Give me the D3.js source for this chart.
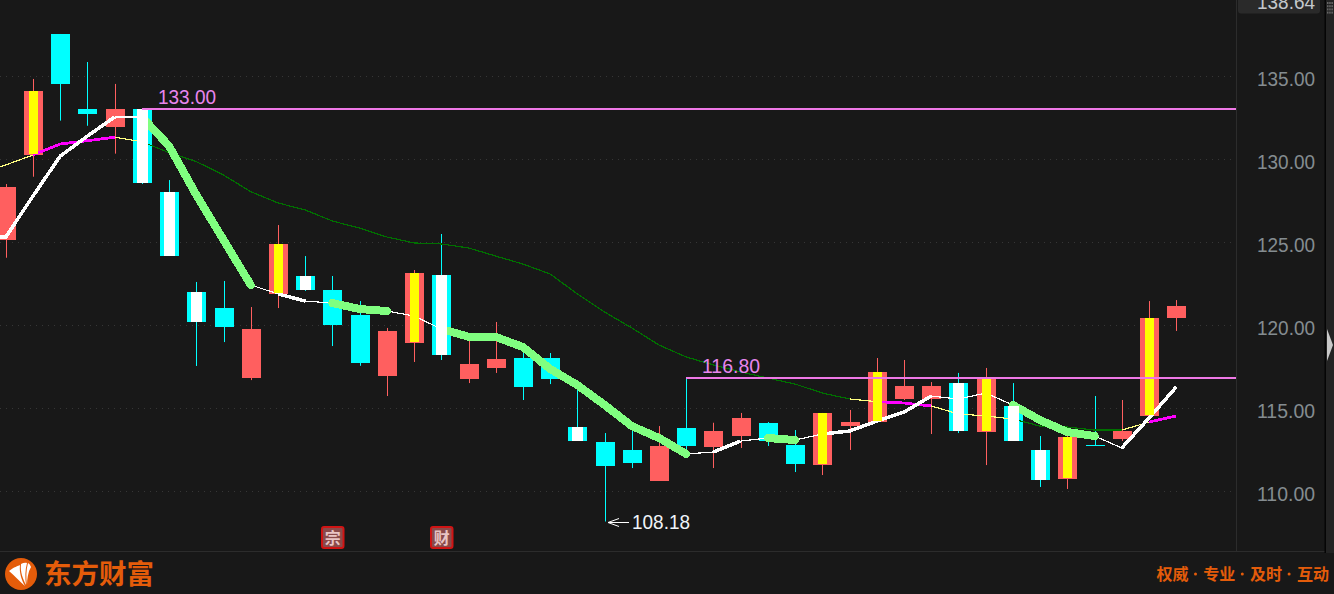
<!DOCTYPE html>
<html><head><meta charset="utf-8">
<script src="https://cdn.jsdelivr.net/npm/d3@7/dist/d3.min.js"></script>
<style>html,body{margin:0;padding:0;background:#181818;overflow:hidden}svg{display:block}</style>
</head><body><svg id="c" width="1334" height="594"></svg>
<script>
const open_=[125.16,130.26,137.55,133.03,131.95,133.03,128.03,122.01,121.04,116.82,121.90,122.97,122.13,120.62,116.95,118.93,123.03,116.76,117.43,118.03,118.03,113.87,112.97,112.49,110.62,113.81,112.67,113.33,114.13,112.79,111.58,113.93,114.17,115.56,115.56,116.52,113.57,115.14,112.49,110.74,112.79,113.15,114.54,120.44];
const close_=[128.33,134.11,134.55,132.73,133.03,128.57,124.19,120.20,119.90,119.78,124.90,122.13,120.02,117.75,119.66,123.15,118.21,117.67,117.97,116.28,116.76,113.03,111.52,111.70,112.73,112.73,113.63,114.41,113.03,111.64,114.72,114.17,117.19,116.34,116.34,113.63,116.82,113.03,110.68,113.27,112.73,113.63,120.44,121.16];
const high_=[128.51,134.84,137.55,135.86,134.54,133.03,128.75,122.61,122.67,121.10,126.04,124.17,122.97,121.46,119.84,123.33,125.50,119.41,120.20,118.81,118.33,116.10,113.51,113.69,113.93,116.80,114.13,114.72,114.17,113.69,114.72,114.90,118.03,117.91,116.58,117.13,117.43,116.52,113.33,113.93,115.74,115.50,121.46,121.52];
const low_=[124.07,128.95,132.33,132.02,130.34,128.51,124.19,117.55,118.99,116.70,121.04,122.07,118.75,117.56,115.74,117.79,117.91,116.52,117.13,115.50,116.46,113.03,108.18,111.40,110.62,112.37,111.40,112.61,112.73,111.16,110.98,112.49,114.17,115.50,113.45,113.51,111.58,113.03,110.26,110.14,112.73,113.03,114.54,119.66];
const bandedCandles=[1,5,6,7,10,11,15,16,21,30,32,35,36,37,38,39,42];
// moving averages start one session before the first visible candle
const maShort=[125.26,125.32,127.79,130.19,131.40,132.55,132.55,130.80,127.85,125.14,122.43,121.89,121.46,121.34,120.98,120.86,120.56,119.78,119.31,119.30,118.69,117.37,116.40,115.20,113.93,113.21,112.25,112.37,113.03,113.21,113.09,113.45,113.63,114.23,114.77,115.74,115.56,115.92,115.20,114.29,113.57,113.33,112.61,114.41,116.28];
const maLong=[129.11,129.66,130.26,130.92,131.12,131.33,131.06,130.40,129.86,129.05,128.05,127.37,126.95,126.28,125.86,125.32,124.96,124.90,124.66,124.17,123.69,123.09,121.89,120.80,119.84,118.81,118.09,117.61,117.19,116.82,116.46,115.92,115.56,115.40,115.32,115.14,114.66,114.54,114.35,113.93,113.87,113.69,113.69,114.17,114.54];
const maShortModes="TTTTTtGGGGtTtGGttGGGGGGGGGtTtGtTTTTtttGGGtTT";
const maLongModes="yyMMMyDDDDDDDDDDDDDDDDDDDDDDDDDDyMMyyyDDDDyM";
const yTicks=[135,130,125,120,115,110];
const axisTop="138.64";
const resistance=[{start:5,value:133.00,label:"133.00"},{start:25,value:116.80,label:"116.80"}];
const lowMark={index:22,value:108.18,label:"108.18"};
const eventBadges=[{index:12,text:"宗"},{index:16,text:"财"}];
const brand="东方财富", slogan=["权威","专业","及时","互动"];

const BG="#181818",RED="#ff5f5f",CYAN="#00ffff",YEL="#ffff00",GRN="#80ff80",PINK="#ee78e6";
const plotW=1236,plotB=551;
const modeStyle={T:["#fff",3.5,"butt"],t:["#fff",1.2,"butt"],G:[GRN,8,"round"],y:["#ffff80",1.2,"butt"],M:["#ff00ff",2.8,"butt"],D:["#007000",1.2,"butt"]};
const x=d3.scaleLinear().domain([0,43]).range([5.8,1176.2]);
const y=d3.scaleLinear().domain([110,135]).range([491.3,76.3]);
const svg=d3.select("#c");
const FONT='"Liberation Sans",Arial,sans-serif';
const num=s=>s.attr("font-family",FONT).attr("font-size",20).attr("textLength",58).attr("lengthAdjust","spacingAndGlyphs");
svg.append("rect").attr("width",1334).attr("height",594).attr("fill",BG);
svg.append("defs").append("clipPath").attr("id","plot").append("rect").attr("width",plotW).attr("height",plotB);

// grid and frame
svg.append("g").selectAll("line").data(yTicks).join("line")
 .attr("x1",0).attr("x2",1241).attr("y1",d=>Math.round(y(d))+.5).attr("y2",d=>Math.round(y(d))+.5)
 .attr("stroke","#363636").attr("stroke-dasharray","1 5");
svg.append("line").attr("x1",1236.5).attr("x2",1236.5).attr("y1",0).attr("y2",plotB).attr("stroke","#2c2c2c");
svg.append("line").attr("x1",0).attr("x2",1325).attr("y1",plotB+.5).attr("y2",plotB+.5).attr("stroke","#2c2c2c");
svg.append("rect").attr("x",1324.5).attr("y",0).attr("width",1.5).attr("height",553).attr("fill","#050505");
svg.append("rect").attr("x",1326).attr("y",0).attr("width",8).attr("height",553).attr("fill","#232323");
svg.append("path").attr("d",d3.line()([[1327,329],[1333,345],[1327,361]])+"Z").attr("fill","#c8c8c8");
const grip=svg.append("g").attr("fill","#666");
d3.range(4).forEach(r=>d3.range(3).forEach(c=>grip.append("rect").attr("x",1327+c*2.2).attr("y",2+r*3.2).attr("width",1.5).attr("height",2)));

// axis
const axis=d3.axisRight(y).tickValues(yTicks).tickFormat(d3.format(".2f")).tickSize(0);
const ga=svg.append("g").attr("transform","translate(1257,0)").call(axis);
ga.select(".domain").remove();
ga.selectAll("text").attr("x",0).attr("y",9.3).attr("dy",0).attr("text-anchor","start").attr("fill","#848c90").call(num);
svg.append("rect").attr("x",1238).attr("y",-4).attr("width",82).attr("height",17.5).attr("rx",3).attr("fill","#2a2a2a");
svg.append("text").attr("x",1257).attr("y",9.3).attr("fill","#c4c8cc").call(num).text(axisTop);

const plot=svg.append("g").attr("clip-path","url(#plot)");
const idx=d3.range(open_.length);
const bw=19;
const isUp=i=>close_[i]>=open_[i];
const col=i=>isUp(i)?RED:CYAN;
// wicks
plot.append("g").selectAll("line").data(idx).join("line")
 .attr("x1",i=>Math.round(x(i))+.5).attr("x2",i=>Math.round(x(i))+.5)
 .attr("y1",i=>y(high_[i])).attr("y2",i=>y(low_[i])).attr("stroke",col).attr("stroke-width",1);
// bodies
plot.append("g").selectAll("rect").data(idx).join("rect")
 .attr("x",i=>Math.round(x(i))+.5-bw/2).attr("width",bw)
 .attr("y",i=>Math.round(y(Math.max(open_[i],close_[i]))))
 .attr("height",i=>Math.max(1,Math.round(Math.abs(y(open_[i])-y(close_[i])))))
 .attr("fill",col);
// moving averages
function drawMA(vals,modes,order){
  const line=d3.line();
  const g=plot.append("g").attr("fill","none").attr("shape-rendering","crispEdges");
  const segs=d3.range(vals.length-1).map(k=>({k,m:modes[k]}));
  order.forEach(m=>{
    let runs=[],cur=null;
    segs.filter(s=>s.m===m).forEach(s=>{
      if(cur&&cur[cur.length-1]===s.k){cur.push(s.k+1);}else{cur=[s.k,s.k+1];runs.push(cur);}
    });
    runs.forEach(r=>{
      const st=modeStyle[m];
      g.append("path").attr("d",line(r.map(k=>[x(k-1),y(vals[k])])))
       .attr("stroke",st[0]).attr("stroke-width",st[1]).attr("stroke-linecap",st[2]).attr("stroke-linejoin","round");
    });
  });
}
drawMA(maLong,maLongModes,["y","D","M"]);
drawMA(maShort,maShortModes,["t","T","G"]);
// candle centre bands sit above the averages
plot.append("g").selectAll("rect").data(bandedCandles).join("rect")
 .attr("x",i=>Math.round(x(i))+.5-(isUp(i)?4.5:5.5)).attr("width",i=>isUp(i)?9:11)
 .attr("y",i=>Math.round(y(Math.max(open_[i],close_[i]))))
 .attr("height",i=>Math.round(Math.abs(y(open_[i])-y(close_[i])))-(isUp(i)?1:0))
 .attr("fill",i=>isUp(i)?YEL:"#fff");
// resistance
const gr=svg.append("g").selectAll("g").data(resistance).join("g");
gr.append("line").attr("x1",d=>Math.round(x(d.start))).attr("x2",plotW).attr("y1",d=>Math.floor(y(d.value))).attr("y2",d=>Math.floor(y(d.value))).attr("stroke",PINK).attr("stroke-width",2);
gr.append("text").attr("x",d=>Math.round(x(d.start))+16).attr("y",d=>Math.floor(y(d.value))-5.2).attr("fill","#e886ee").call(num).text(d=>d.label);
// low marker
const lx=Math.round(x(lowMark.index))+3,ly=Math.round(y(lowMark.value))+.5;
svg.append("path").attr("d",`M${lx+21},${ly}H${lx}M${lx+11},${ly-4}L${lx},${ly}L${lx+11},${ly+4}`).attr("stroke","#fff").attr("fill","none");
svg.append("text").attr("x",lx+24).attr("y",ly+6.5).attr("fill","#f0f4f8").call(num).text(lowMark.label);
// badges
const CJK='"Noto Sans CJK SC",sans-serif';
const gb=svg.append("g").selectAll("g").data(eventBadges).join("g").attr("transform",d=>`translate(${Math.round(x(d.index))-10},527)`);
gb.append("rect").attr("width",21.5).attr("height",21).attr("rx",2).attr("fill","#8a4a4a").attr("stroke","#d01414").attr("stroke-width",2);
gb.append("text").attr("x",10.75).attr("y",16.5).attr("text-anchor","middle").attr("fill","#e8c4c4").attr("font-family",CJK).attr("font-weight",700).attr("font-size",16).text(d=>d.text);
// footer brand
const ORG="#e45c0a";
svg.append("circle").attr("cx",21).attr("cy",574).attr("r",16).attr("fill",ORG);
svg.append("g").attr("fill","#fff").selectAll("path").data([
 "M9,571C14,567 18,566 20,565C19,573 22,581 25,586C20,582 14,575 9,571Z",
 "M21,564C23,563 25,562.5 27,563C25,570 25,578 26,585C23,579 20,572 21,564Z",
 "M28,563Q30,564 31,567C28,572 27,579 27,585C26,578 26,570 28,563Z"]).join("path").attr("d",d=>d);
svg.append("text").attr("x",44).attr("y",584).attr("fill",ORG).attr("font-family",CJK).attr("font-weight",700).attr("font-size",27.5).text(brand);
svg.append("g").selectAll("text").data(slogan).join("text").attr("x",(d,i)=>1156.5+i*46.8).attr("y",580).attr("fill",ORG).attr("font-family",CJK).attr("font-weight",700).attr("font-size",16).text(d=>d);
svg.append("g").selectAll("circle").data(d3.range(3)).join("circle").attr("cx",i=>1195.5+i*46.8).attr("cy",574).attr("r",1.5).attr("fill",ORG);
</script></body></html>
